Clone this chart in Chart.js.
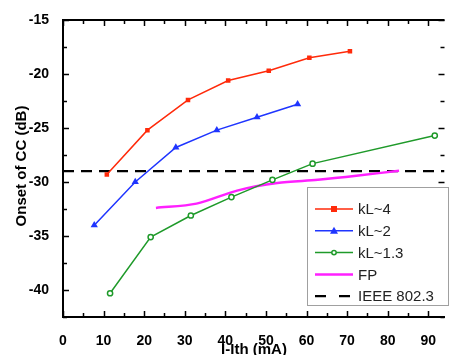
<!DOCTYPE html>
<html>
<head>
<meta charset="utf-8">
<script src="https://cdn.jsdelivr.net/npm/chart.js@4.4.1/dist/chart.umd.min.js"></script>
<style>
  html, body { margin: 0; padding: 0; background: #fff; }
  #wrap { width: 450px; height: 355px; position: relative; }
</style>
</head>
<body>
<div id="wrap"><canvas id="cc" width="450" height="355"></canvas></div>
<script>
(function(){
  'use strict';

  // values
  const kl4X  = [10.8, 20.8, 30.8, 40.7, 50.7, 60.7, 70.7];
  const kl4Y  = [-29.3, -25.2, -22.4, -20.6, -19.7, -18.5, -17.9];
  const kl2X  = [7.7, 17.8, 27.8, 37.9, 47.8, 57.8];
  const kl2Y  = [-34.0, -30.0, -26.8, -25.2, -24.0, -22.8];
  const kl13X = [11.6, 21.6, 31.5, 41.5, 51.6, 61.5, 91.6];
  const kl13Y = [-40.3, -35.1, -33.1, -31.4, -29.8, -28.3, -25.7];
  const fpX   = [22.9, 32.9, 42.9, 52.8, 62.8, 72.8, 82.8];
  const fpY   = [-32.4, -32.0, -30.8, -30.1, -29.8, -29.4, -28.95];
  const ieeeX = [0, 94];
  const ieeeY = [-29, -29];

  const xTicks = [0, 10, 20, 30, 40, 50, 60, 70, 80, 90];
  const yTicks = [-40, -35, -30, -25, -20, -15];

  const labels = ['kL~4', 'kL~2', 'kL~1.3', 'FP', 'IEEE 802.3'];
  const colors = ['#ff2a0a', '#1f35ff', '#1f9a2a', '#ff20ff', '#000000'];

  const FONT = 'Arial, "Liberation Sans", sans-serif';

  function pts(xs, ys){ return xs.map((x, i) => ({ x: x, y: ys[i] })); }

  // inward tick marks on all four sides + axis titles
  const frame = {
    id: 'frame',
    afterDatasetsDraw(chart){
      const { ctx, chartArea: a, scales: { x, y } } = chart;
      ctx.save();
      ctx.strokeStyle = '#000';
      ctx.lineWidth = 1.5;
      ctx.beginPath();
      for (let v = 0; v <= 94; v += 5) {
        const px = Math.round(x.getPixelForValue(v)) + 0.5;
        const len = v % 10 === 0 ? 6 : 4;
        ctx.moveTo(px, a.bottom); ctx.lineTo(px, a.bottom - len);
        ctx.moveTo(px, a.top); ctx.lineTo(px, a.top + len);
      }
      for (let v = -42.5; v <= -15; v += 2.5) {
        const py = Math.round(y.getPixelForValue(v)) + 0.5;
        const len = v % 5 === 0 ? 6 : 4;
        ctx.moveTo(a.left, py); ctx.lineTo(a.left + len, py);
        ctx.moveTo(a.right, py); ctx.lineTo(a.right - len, py);
      }
      ctx.stroke();
      ctx.lineWidth = 2;
      ctx.beginPath();
      ctx.moveTo(a.left, a.top); ctx.lineTo(a.right, a.top);
      ctx.stroke();

      // axis titles
      ctx.fillStyle = '#000';
      ctx.font = 'bold 15px ' + FONT;
      ctx.textAlign = 'center';
      ctx.textBaseline = 'middle';
      ctx.fillText('I-Ith (mA)', 254, 350);
      ctx.translate(22, 166);
      ctx.rotate(-Math.PI / 2);
      ctx.fillText('Onset of CC (dB)', 0, 0);
      ctx.restore();
    }
  };

  // legend box inside the plot, lower right
  const legendBox = {
    id: 'legendBox',
    afterDraw(chart){
      const ctx = chart.ctx;
      const bx = 307, by = 187, bw = 141, bh = 118;
      ctx.save();
      ctx.fillStyle = '#fff';
      ctx.fillRect(bx, by, bw, bh);
      ctx.strokeStyle = '#a0a0a0';
      ctx.lineWidth = 1;
      ctx.strokeRect(bx + 0.5, by + 0.5, bw, bh);
      chart.data.datasets.forEach((ds, i) => {
        const yy = 209 + i * 21.8;
        ctx.strokeStyle = ds.borderColor;
        ctx.lineWidth = ds.borderWidth;
        ctx.setLineDash(ds.borderDash ? [11, 13] : []);
        ctx.beginPath();
        ctx.moveTo(315, yy); ctx.lineTo(353, yy);
        ctx.stroke();
        ctx.setLineDash([]);
        if (ds.pointRadius > 0) {
          const cx = 334;
          ctx.fillStyle = ds.pointBackgroundColor;
          ctx.strokeStyle = ds.pointBorderColor;
          ctx.lineWidth = 1.5;
          if (ds.pointStyle === 'rect') {
            ctx.fillRect(cx - 3, yy - 3, 6, 6);
          } else if (ds.pointStyle === 'triangle') {
            ctx.beginPath();
            ctx.moveTo(cx, yy - 4); ctx.lineTo(cx + 4, yy + 3); ctx.lineTo(cx - 4, yy + 3);
            ctx.closePath(); ctx.fill();
          } else {
            ctx.beginPath();
            ctx.arc(cx, yy, 2.2, 0, Math.PI * 2);
            ctx.fill(); ctx.stroke();
          }
        }
        ctx.fillStyle = '#222';
        ctx.font = '15px ' + FONT;
        ctx.textAlign = 'left';
        ctx.textBaseline = 'middle';
        ctx.fillText(ds.label, 358, yy + 1);
      });
      ctx.restore();
    }
  };

  new Chart(document.getElementById('cc'), {
    type: 'line',
    data: {
      datasets: [
        { label: labels[0], data: pts(kl4X, kl4Y), borderColor: colors[0], borderWidth: 1.5,
          pointStyle: 'rect', pointRadius: 3.2, pointBackgroundColor: colors[0], pointBorderColor: colors[0], pointBorderWidth: 0 },
        { label: labels[1], data: pts(kl2X, kl2Y), borderColor: colors[1], borderWidth: 1.5,
          pointStyle: 'triangle', pointRadius: 4.2, pointBackgroundColor: colors[1], pointBorderColor: colors[1], pointBorderWidth: 0 },
        { label: labels[2], data: pts(kl13X, kl13Y), borderColor: colors[2], borderWidth: 1.5,
          pointStyle: 'circle', pointRadius: 2.6, pointBackgroundColor: '#fff', pointBorderColor: colors[2], pointBorderWidth: 1.5 },
        { label: labels[3], data: pts(fpX, fpY), borderColor: colors[3], borderWidth: 2.5,
          pointRadius: 0, tension: 0.3 },
        { label: labels[4], data: pts(ieeeX, ieeeY), borderColor: colors[4], borderWidth: 2.2,
          borderDash: [11, 7], pointRadius: 0 }
      ]
    },
    options: {
      responsive: false,
      animation: false,
      events: [],
      layout: { padding: { top: 20, right: 0, left: 0, bottom: 0 } },
      plugins: { legend: { display: false }, tooltip: { enabled: false }, title: { display: false } },
      scales: {
        x: {
          type: 'linear', min: 0, max: 94,
          afterFit(s){ s.height = 38; },
          afterBuildTicks(s){ s.ticks = xTicks.map(v => ({ value: v })); },
          grid: { display: false },
          border: { display: true, color: '#000', width: 2 },
          ticks: { color: '#000', padding: 8, font: { family: FONT, size: 14, weight: 'bold' } }
        },
        y: {
          type: 'linear', min: -42.5, max: -15,
          afterFit(s){ s.width = 63; },
          afterBuildTicks(s){ s.ticks = yTicks.map(v => ({ value: v })); },
          grid: { display: false },
          border: { display: true, color: '#000', width: 2 },
          ticks: { color: '#000', padding: 6, font: { family: FONT, size: 14, weight: 'bold' } }
        }
      }
    },
    plugins: [frame, legendBox]
  });
})();
</script>
</body>
</html>
